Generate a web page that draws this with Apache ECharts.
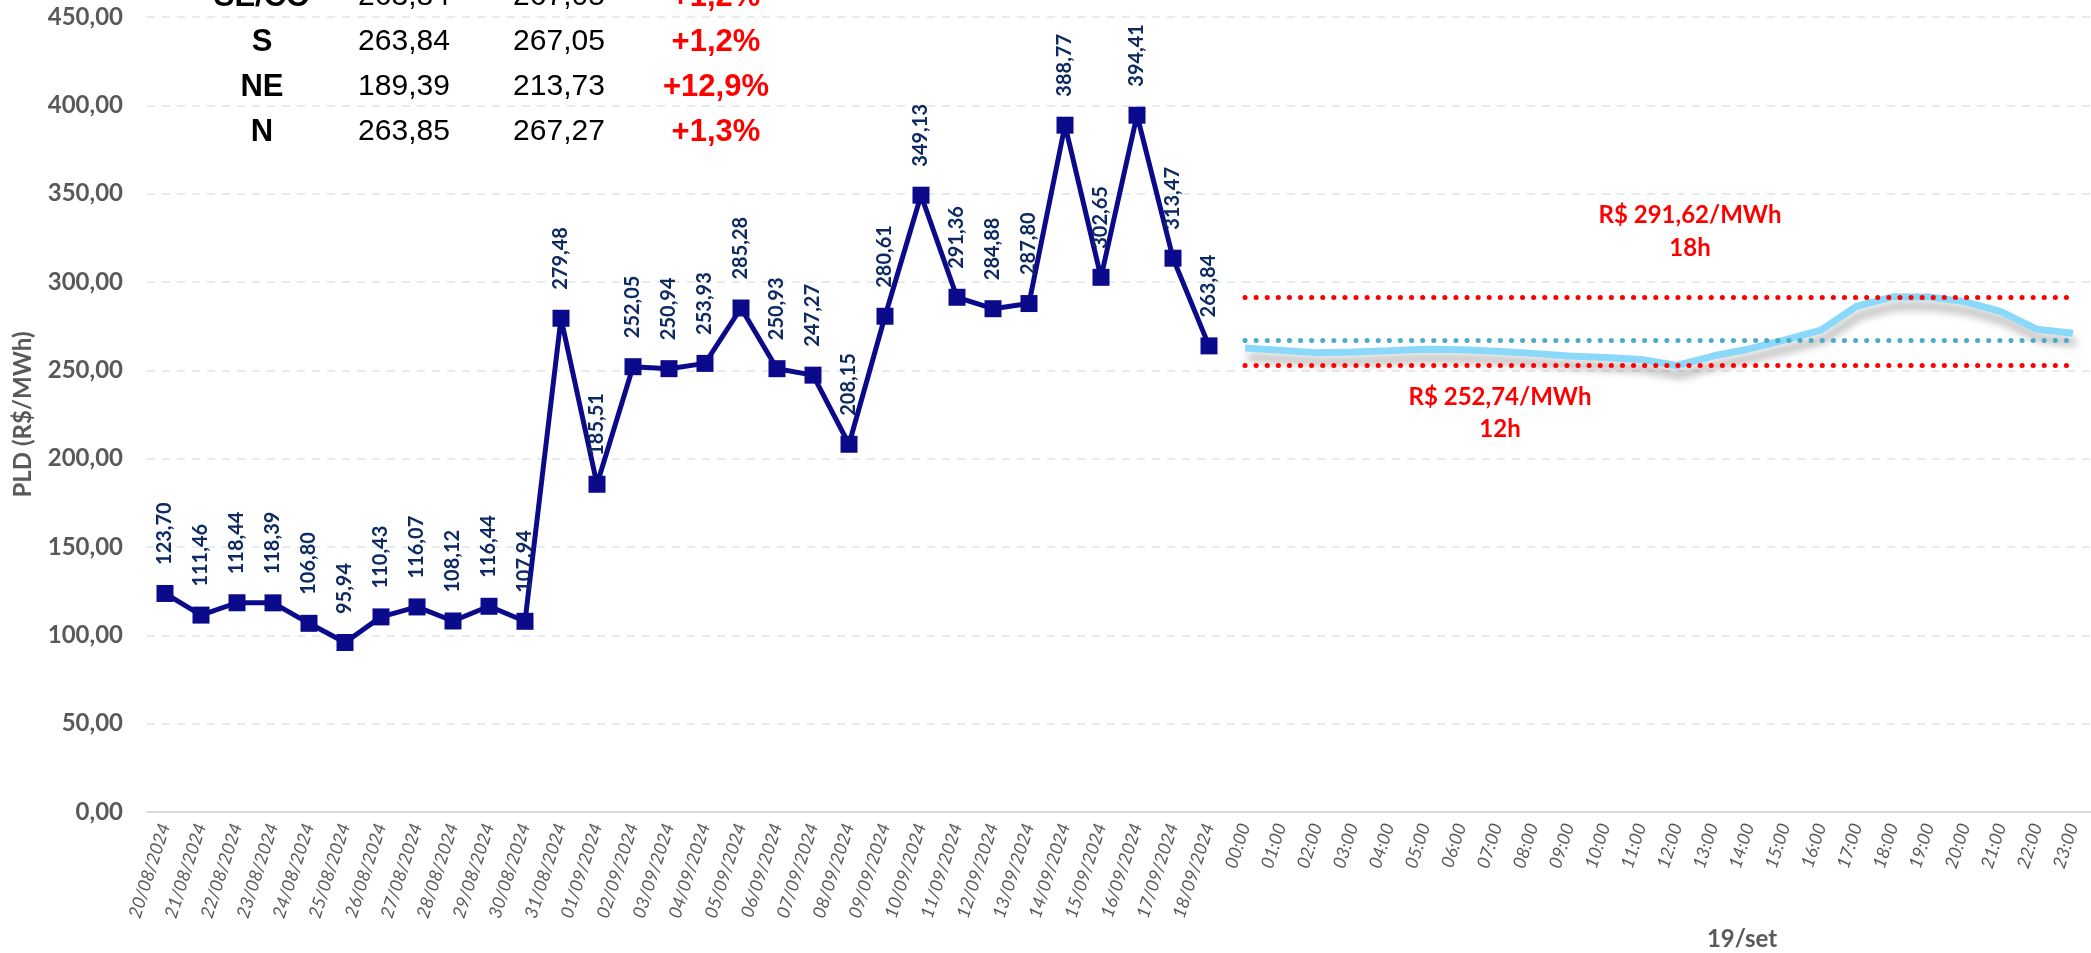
<!DOCTYPE html>
<html>
<head>
<meta charset="utf-8">
<title>PLD</title>
<script src="https://cdn.jsdelivr.net/npm/echarts@6/dist/echarts.min.js"></script>
<style>
  html, body { margin: 0; padding: 0; background: #fff; }
  #chart { width: 2091px; height: 953px; }
</style>
</head>
<body>
<div id="chart"></div>
<script>
// PLD diário (20/08 a 18/09) e PLD horário de 19/set
const days = [
  "20/08/2024", "21/08/2024", "22/08/2024", "23/08/2024", "24/08/2024", "25/08/2024",
  "26/08/2024", "27/08/2024", "28/08/2024", "29/08/2024", "30/08/2024", "31/08/2024",
  "01/09/2024", "02/09/2024", "03/09/2024", "04/09/2024", "05/09/2024", "06/09/2024",
  "07/09/2024", "08/09/2024", "09/09/2024", "10/09/2024", "11/09/2024", "12/09/2024",
  "13/09/2024", "14/09/2024", "15/09/2024", "16/09/2024", "17/09/2024", "18/09/2024",
]
const dailyPld = [
  123.70, 111.46, 118.44, 118.39, 106.80, 95.94, 110.43, 116.07, 108.12, 116.44,
  107.94, 279.48, 185.51, 252.05, 250.94, 253.93, 285.28, 250.93, 247.27, 208.15,
  280.61, 349.13, 291.36, 284.88, 287.80, 388.77, 302.65, 394.41, 313.47, 263.84,
]

const hours = [
  "00:00", "01:00", "02:00", "03:00", "04:00", "05:00", "06:00", "07:00",
  "08:00", "09:00", "10:00", "11:00", "12:00", "13:00", "14:00", "15:00",
  "16:00", "17:00", "18:00", "19:00", "20:00", "21:00", "22:00", "23:00",
]
const hourlyPld = [
  262.6, 261.3, 260.0, 260.4, 261.1, 261.9, 261.7, 260.8, 259.6, 258.1, 257.2, 256.2,
  252.74, 258.1, 262.1, 267.2, 272.8, 286.4, 291.62, 291.5, 288.9, 283.2, 273.2, 271.0,
]
const hourlyMax = 291.62
const hourlyMin = 252.74
const hourlyMean = 267.05

// tabela de submercados (cortada no topo)
const regions = ["SE/CO", "S", "NE", "N"]
const pldToday = [263.84, 263.84, 189.39, 263.85]
const pldTomorrow = [267.05, 267.05, 213.73, 267.27]
const pldChange = ["+1,2%", "+1,2%", "+12,9%", "+1,3%"]

const fmt = (v) => v.toFixed(2).replace(".", ",")

const gray = "#595959"
const navy = "#0A0A8A"

const chart = echarts.init(document.getElementById("chart"))

const tableTexts = []
regions.forEach((r, i) => {
  const y = -3 + i * 45
  tableTexts.push(
    { type: "text", x: 262, y, style: { text: r, font: "bold 31px 'Liberation Sans'", fill: "#000", align: "center", verticalAlign: "middle" } },
    { type: "text", x: 404, y, style: { text: fmt(pldToday[i]), font: "30px 'Liberation Sans'", fill: "#000", align: "center", verticalAlign: "middle" } },
    { type: "text", x: 559, y, style: { text: fmt(pldTomorrow[i]), font: "30px 'Liberation Sans'", fill: "#000", align: "center", verticalAlign: "middle" } },
    { type: "text", x: 716, y, style: { text: pldChange[i], font: "bold 31px 'Liberation Sans'", fill: "#FF0000", align: "center", verticalAlign: "middle" } },
  )
})

const noteFont = "bold 24px Lato"
const notes = [
  { type: "text", x: 1690, y: 215, style: { text: "R$ " + fmt(hourlyMax) + "/MWh", font: noteFont, fill: "#FF0000", align: "center", verticalAlign: "middle" } },
  { type: "text", x: 1690, y: 248, style: { text: "18h", font: noteFont, fill: "#FF0000", align: "center", verticalAlign: "middle" } },
  { type: "text", x: 1500, y: 397, style: { text: "R$ " + fmt(hourlyMin) + "/MWh", font: noteFont, fill: "#FF0000", align: "center", verticalAlign: "middle" } },
  { type: "text", x: 1500, y: 429, style: { text: "12h", font: noteFont, fill: "#FF0000", align: "center", verticalAlign: "middle" } },
  { type: "text", x: 1742, y: 939, style: { text: "19/set", font: "bold 24px Lato", fill: gray, align: "center", verticalAlign: "middle" } },
]

const option = {
  backgroundColor: "#fff",
  animation: false,
  grid: {
    left: 147,
    top: 17,
    width: 1949,
    bottom: 141,
  },
  xAxis: {
    type: "category",
    data: days.concat(hours),
    boundaryGap: true,
    axisLine: { lineStyle: { color: "#D9D9D9", width: 2 } },
    axisTick: { show: false },
    axisLabel: {
      interval: 0,
      rotate: 72,
      margin: 12,
      color: gray,
      fontFamily: "Lato",
      fontStyle: "italic",
      fontSize: 18,
    },
  },
  yAxis: {
    type: "value",
    min: 0,
    max: 450,
    interval: 50,
    name: "PLD (R$/MWh)",
    nameLocation: "middle",
    nameGap: 112,
    nameTextStyle: { color: gray, fontFamily: "Lato", fontWeight: "bold", fontSize: 24 },
    axisLine: { show: false },
    axisTick: { show: false },
    axisLabel: {
      margin: 24,
      color: gray,
      fontFamily: "Lato",
      fontWeight: "bold",
      fontSize: 24,
      formatter: (v) => fmt(v),
    },
    splitLine: { lineStyle: { color: "#E4ECEF", width: 2, type: [8, 7] } },
  },
  series: [
    {
      name: "PLD diário",
      type: "line",
      data: days.map((d, i) => [d, dailyPld[i]]),
      symbol: "rect",
      symbolSize: 17,
      lineStyle: { color: navy, width: 5 },
      itemStyle: { color: navy },
      label: {
        show: true,
        position: "top",
        distance: 20,
        rotate: 90,
        align: "left",
        verticalAlign: "middle",
        color: "#0F2A62",
        fontFamily: "Lato",
        fontWeight: "bold",
        fontSize: 20,
        formatter: (p) => fmt(p.value[1]),
      },
      z: 3,
    },
    {
      name: "PLD horário",
      type: "line",
      data: hours.map((h, i) => [h, hourlyPld[i]]),
      symbol: "none",
      lineStyle: {
        color: "#8AD9FA",
        width: 7,
        shadowColor: "rgba(0,0,0,0.3)",
        shadowBlur: 8,
        shadowOffsetX: 3,
        shadowOffsetY: 9,
      },
      markLine: {
        silent: true,
        symbol: ["none", "none"],
        label: { show: false },
        data: [
          [
            { coord: [hours[0], hourlyMax], lineStyle: { color: "#FF0000", width: 5, type: [0.1, 11], cap: "round" } },
            { coord: [hours[23], hourlyMax] },
          ],
          [
            { coord: [hours[0], hourlyMean], lineStyle: { color: "#4BACC6", width: 5, type: [0.1, 11], cap: "round" } },
            { coord: [hours[23], hourlyMean] },
          ],
          [
            { coord: [hours[0], hourlyMin], lineStyle: { color: "#FF0000", width: 5, type: [0.1, 11], cap: "round" } },
            { coord: [hours[23], hourlyMin] },
          ],
        ],
      },
      z: 2,
    },
  ],
  graphic: tableTexts.concat(notes),
}

chart.setOption(option)
</script>
</body>
</html>
